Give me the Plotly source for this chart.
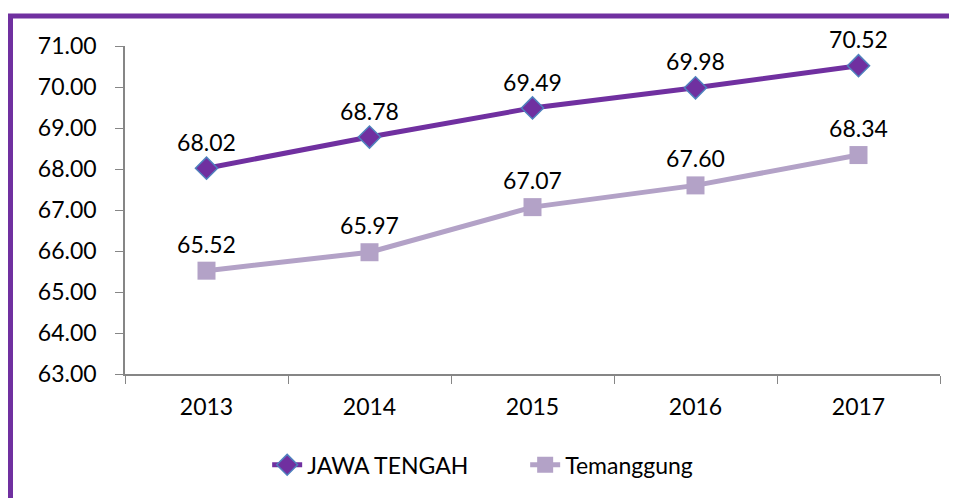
import plotly.graph_objects as go

years = ["2013", "2014", "2015", "2016", "2017"]
jawa_tengah = [68.02, 68.78, 69.49, 69.98, 70.52]
temanggung = [65.52, 65.97, 67.07, 67.60, 68.34]
y_ticks = [63, 64, 65, 66, 67, 68, 69, 70, 71]

FONT = "Lato"
FS = 23

fig = go.Figure()
fig.add_trace(go.Scatter(
    x=years, y=jawa_tengah, name="JAWA TENGAH", mode="lines+markers+text",
    line=dict(color="#7030A0", width=5),
    marker=dict(symbol="diamond", size=17, color="#7030A0",
                line=dict(color="#4F81BD", width=1.5)),
    text=[f"{v:.2f}" for v in jawa_tengah], textposition="top center",
    textfont=dict(family=FONT, size=FS, color="black"), cliponaxis=False,
))
fig.add_trace(go.Scatter(
    x=years, y=temanggung, name="Temanggung", mode="lines+markers+text",
    line=dict(color="#B3A2C7", width=5),
    marker=dict(symbol="square", size=18, color="#B3A2C7"),
    text=[f"{v:.2f}" for v in temanggung], textposition="top center",
    textfont=dict(family=FONT, size=FS, color="black"), cliponaxis=False,
))

fig.update_layout(
    width=957, height=498,
    margin=dict(l=117, r=25, t=38, b=132, autoexpand=False),
    paper_bgcolor="white", plot_bgcolor="white",
    font=dict(family=FONT, size=FS, color="black"),
    showlegend=True,
    legend=dict(orientation="h", x=0.491, xanchor="center", y=-0.277, yanchor="middle",
                font=dict(family=FONT, size=FS, color="black"),
                entrywidth=213, entrywidthmode="pixels"),
    shapes=[dict(type="rect", xref="paper", yref="paper",
                 x0=-0.1405, x1=1.1, y0=-0.6, y1=1.0915,
                 line=dict(color="#7030A0", width=5), fillcolor="rgba(0,0,0,0)",
                 layer="below")],
)
fig.update_xaxes(
    type="category", range=[-0.5, 4.5], showgrid=False,
    showline=True, linecolor="#868686", linewidth=1.5,
    ticks="outside", tickson="boundaries", ticklen=8, tickcolor="#868686",
    tickfont=dict(family=FONT, size=FS), ticklabelstandoff=12, automargin=False,
)
fig.update_yaxes(
    range=[63, 71], tickvals=y_ticks, tickformat=".2f", showgrid=False,
    showline=True, linecolor="#868686", linewidth=1.5,
    ticks="outside", ticklen=8, tickcolor="#868686",
    tickfont=dict(family=FONT, size=FS), zeroline=False,
    ticklabelstandoff=14, automargin=False,
)

fig.write_html("out.html")
